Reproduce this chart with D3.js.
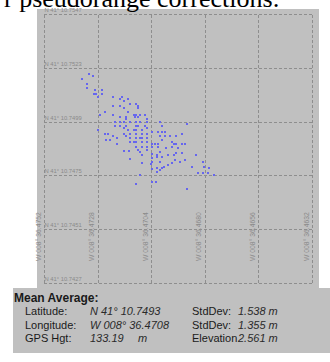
<!DOCTYPE html>
<html>
<head>
<meta charset="utf-8">
<script src="https://cdn.jsdelivr.net/npm/d3@7"></script>
<style>
  body { margin: 0; background: #fff; }
  svg { display: block; }
</style>
</head>
<body>
<script>
// GPS fixes, [W longitude minutes past 8°, N latitude minutes past 41°]
const fixes = [
  [36.47318,10.75202],[36.47300,10.75193],[36.47350,10.75180],[36.47327,10.75158],[36.47327,10.75140],
  [36.47292,10.75131],[36.47260,10.75131],[36.47296,10.75113],[36.47287,10.75113],[36.47278,10.75100],
  [36.47260,10.75113],[36.47211,10.75100],[36.47171,10.75100],[36.47180,10.75091],[36.47144,10.75091],
  [36.47162,10.75082],[36.47135,10.75069],[36.47108,10.75069],[36.47099,10.75060],[36.47211,10.75060],
  [36.47180,10.75060],[36.47162,10.75051],[36.47099,10.75051],[36.47247,10.75033],[36.47269,10.75020],
  [36.47211,10.75020],[36.47180,10.75011],[36.47153,10.75011],[36.47117,10.75020],[36.47108,10.75020],
  [36.47090,10.75020],[36.47068,10.75020],[36.47112,10.75011],[36.47099,10.75011],[36.47059,10.75002],
  [36.47144,10.75033],[36.47153,10.75002],[36.47202,10.74988],[36.47180,10.74988],[36.47162,10.74988],
  [36.47135,10.74988],[36.47108,10.74988],[36.47090,10.74988],[36.47059,10.74988],[36.47000,10.74988],
  [36.46879,10.74979],[36.47202,10.74970],[36.47180,10.74970],[36.47153,10.74970],[36.47108,10.74970],
  [36.47099,10.74970],[36.47068,10.74970],[36.47278,10.74953],[36.47162,10.74962],[36.47144,10.74953],
  [36.47117,10.74953],[36.47108,10.74953],[36.47081,10.74953],[36.47059,10.74962],[36.46991,10.74970],
  [36.47247,10.74935],[36.47233,10.74935],[36.47162,10.74935],[36.47135,10.74935],[36.47108,10.74935],
  [36.47081,10.74935],[36.47059,10.74935],[36.47036,10.74944],[36.47009,10.74944],[36.46991,10.74944],
  [36.46978,10.74944],[36.47211,10.74926],[36.47193,10.74917],[36.47242,10.74908],[36.47224,10.74908],
  [36.47153,10.74926],[36.47135,10.74917],[36.47108,10.74917],[36.47090,10.74917],[36.47081,10.74917],
  [36.47059,10.74917],[36.47000,10.74926],[36.46978,10.74926],[36.46956,10.74926],[36.46929,10.74926],
  [36.46902,10.74935],[36.47193,10.74890],[36.47135,10.74899],[36.47117,10.74899],[36.47108,10.74899],
  [36.47081,10.74899],[36.47059,10.74899],[36.47036,10.74890],[36.47023,10.74890],[36.47009,10.74890],
  [36.46991,10.74908],[36.46947,10.74899],[36.46938,10.74890],[36.46929,10.74890],[36.46902,10.74890],
  [36.46888,10.74890],[36.47108,10.74877],[36.47081,10.74877],[36.47059,10.74877],[36.47036,10.74877],
  [36.47009,10.74877],[36.46973,10.74872],[36.46947,10.74877],[36.46920,10.74872],[36.47162,10.74859],
  [36.47139,10.74859],[36.47099,10.74863],[36.47090,10.74855],[36.47059,10.74863],[36.47036,10.74846],
  [36.47014,10.74841],[36.47000,10.74855],[36.46964,10.74841],[36.46938,10.74841],[36.46929,10.74850],
  [36.46902,10.74850],[36.46839,10.74841],[36.47135,10.74823],[36.47081,10.74841],[36.47036,10.74828],
  [36.47014,10.74832],[36.46991,10.74832],[36.47036,10.74810],[36.47041,10.74801],[36.47000,10.74810],
  [36.46964,10.74796],[36.46947,10.74805],[36.46933,10.74819],[36.46911,10.74810],[36.46888,10.74819],
  [36.47081,10.74805],[36.46857,10.74788],[36.46808,10.74810],[36.46803,10.74788],[36.46781,10.74783],
  [36.47014,10.74783],[36.47000,10.74774],[36.46991,10.74783],[36.46982,10.74788],[36.47014,10.74765],
  [36.47036,10.74779],[36.46830,10.74761],[36.46808,10.74761],[36.46785,10.74761],[36.46758,10.74752],
  [36.47090,10.74752],[36.47108,10.74712],[36.47036,10.74721],[36.47018,10.74721],[36.46879,10.74690]
];

const lonTicks = [36.4752, 36.4728, 36.4704, 36.4680, 36.4656, 36.4632];
const latTicks = [10.7547, 10.7523, 10.7499, 10.7475, 10.7451, 10.7427];

const captionText = "r pseudorange corrections:";
const summaryTitle = "Mean Average:";
const meanLabels = ["Latitude:", "Longitude:", "GPS Hgt:"];
const meanValues = ["N 41° 10.7493", "W 008° 36.4708", "133.19"];
const meanUnits = ["", "", "m"];
const devLabels = ["StdDev:", "StdDev:", "Elevation"];
const devValues = ["1.538 m", "1.355 m", "2.561 m"];

const width = 330, height = 362;
const panel = { left: 37, top: 9, right: 319, bottom: 288 };
const grid = { left: 44, top: 14, right: 312, bottom: 283 };
const gray = "#c0c0c0";
const gridColor = "#8e8e8e";
const sans = "'Liberation Sans', Arial, sans-serif";

const x = d3.scaleLinear().domain(d3.extent(lonTicks).reverse()).range([grid.left, grid.right]);
const y = d3.scaleLinear().domain(d3.extent(latTicks).reverse()).range([grid.top, grid.bottom]);

const svg = d3.select("body").append("svg")
    .attr("width", width)
    .attr("height", height)
    .attr("viewBox", `0 0 ${width} ${height}`);

// grey plot panel + summary box
svg.append("rect")
    .attr("x", panel.left).attr("y", panel.top)
    .attr("width", panel.right - panel.left).attr("height", panel.bottom - panel.top)
    .attr("fill", gray);
svg.append("rect")
    .attr("x", 13).attr("y", panel.bottom)
    .attr("width", width - 13).attr("height", 65)
    .attr("fill", gray);

// cut-off line of text from the document above the figure
svg.append("text")
    .attr("x", 4).attr("y", 7)
    .attr("font-family", "'Liberation Serif', 'Times New Roman', serif")
    .attr("font-size", 26)
    .attr("fill", "#000")
    .text(captionText);

// vertical grid lines (longitude)
svg.append("g")
    .attr("transform", `translate(0,${grid.bottom})`)
    .call(d3.axisBottom(x).tickValues(lonTicks).tickSize(-(grid.bottom - grid.top)).tickFormat(""))
    .call(g => g.select(".domain").remove())
    .call(g => g.selectAll(".tick line")
        .attr("stroke", gridColor)
        .attr("stroke-dasharray", "3,2")
        .attr("shape-rendering", "crispEdges"));

// horizontal grid lines (latitude)
svg.append("g")
    .attr("transform", `translate(${grid.left},0)`)
    .call(d3.axisLeft(y).tickValues(latTicks).tickSize(-(grid.right - grid.left)).tickFormat(""))
    .call(g => g.select(".domain").remove())
    .call(g => g.selectAll(".tick line")
        .attr("stroke", gridColor)
        .attr("stroke-dasharray", "3,2")
        .attr("shape-rendering", "crispEdges"));

// latitude labels, sitting just above each line
svg.append("g")
    .selectAll("text")
    .data(latTicks)
    .join("text")
    .attr("x", grid.left + 0.5)
    .attr("y", d => y(d) - 2)
    .attr("font-family", sans)
    .attr("font-size", 5.8)
    .attr("fill", "#8a8a8a")
    .text(d => `N 41° ${d.toFixed(4)}`);

// longitude labels, rotated, left of each line
svg.append("g")
    .selectAll("text")
    .data(lonTicks)
    .join("text")
    .attr("transform", d => `translate(${x(d) - 3.5},261) rotate(-90)`)
    .attr("font-family", sans)
    .attr("font-size", 6.8)
    .attr("fill", "#8a8a8a")
    .text(d => `W 008° ${d.toFixed(4)}`);

// fixes
svg.append("g")
    .selectAll("rect")
    .data(fixes)
    .join("rect")
    .attr("x", d => Math.round(x(d[0])) - 1)
    .attr("y", d => Math.round(y(d[1])) - 1)
    .attr("width", 2)
    .attr("height", 2)
    .attr("fill", "#6666ee");

// summary box
const box = svg.append("g").attr("font-family", sans).attr("fill", "#1a1a1a");
box.append("text")
    .attr("x", 14).attr("y", 302)
    .attr("font-size", 12)
    .attr("font-weight", "bold")
    .text(summaryTitle);

const rowY = i => 315 + i * 13.5;
box.selectAll(".ml").data(meanLabels).join("text")
    .attr("x", 25).attr("y", (d, i) => rowY(i)).attr("font-size", 11).text(d => d);
box.selectAll(".mv").data(meanValues).join("text")
    .attr("x", 90).attr("y", (d, i) => rowY(i)).attr("font-size", 11)
    .attr("font-style", "italic").attr("fill", "#2a2a2a").text(d => d);
box.selectAll(".mu").data(meanUnits).join("text")
    .attr("x", 138).attr("y", (d, i) => rowY(i)).attr("font-size", 11)
    .attr("font-style", "italic").attr("fill", "#2a2a2a").text(d => d);
box.selectAll(".dl").data(devLabels).join("text")
    .attr("x", 192).attr("y", (d, i) => rowY(i)).attr("font-size", 11).text(d => d);
box.selectAll(".dv").data(devValues).join("text")
    .attr("x", 238).attr("y", (d, i) => rowY(i)).attr("font-size", 11)
    .attr("font-style", "italic").attr("fill", "#2a2a2a").text(d => d);
</script>
</body>
</html>
